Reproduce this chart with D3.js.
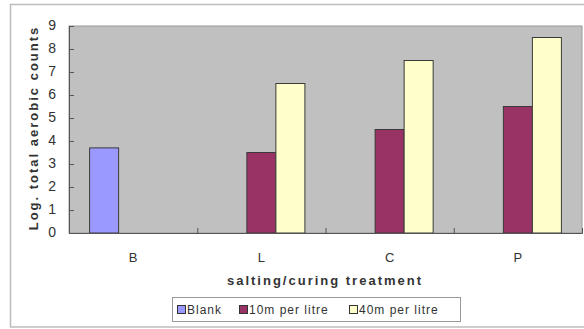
<!DOCTYPE html>
<html>
<head>
<meta charset="utf-8">
<script src="https://cdn.jsdelivr.net/npm/d3@7"></script>
<style>
  html, body { margin: 0; padding: 0; background: #fff; }
  svg { display: block; }
  text { font-family: "Liberation Sans", Arial, sans-serif; fill: #333; }
</style>
</head>
<body>
<svg id="chart" width="584" height="329"></svg>
<script>
// Treatments along the x axis
const categories = ["B", "L", "C", "P"];
// Series: name, fill colour, values per treatment (null = no bar)
const seriesNames = ["Blank", "10m per litre", "40m per litre"];
const seriesColors = ["#9999ff", "#993366", "#ffffcc"];
const blankValues = [3.7, null, null, null];
const tenValues = [null, 3.5, 4.5, 5.5];
const fortyValues = [null, 6.5, 7.5, 8.5];
const yTicks = [0, 1, 2, 3, 4, 5, 6, 7, 8, 9];

const seriesValues = [blankValues, tenValues, fortyValues];

const svg = d3.select("#chart");

// outer chart frame
svg.append("rect")
  .attr("x", 10.5).attr("y", 4.5)
  .attr("width", 600).attr("height", 322.5)
  .attr("fill", "#fff").attr("stroke", "#bdbdbd").attr("stroke-width", 1.5);

const plot = { left: 69, right: 582, top: 26, bottom: 233 };

const x = d3.scaleBand()
  .domain(categories)
  .range([plot.left, plot.right])
  .paddingInner(0).paddingOuter(0);

// three slots per treatment, with a gap on both sides
const inner = d3.scaleBand()
  .domain(d3.range(seriesNames.length))
  .range([0, x.bandwidth()])
  .paddingOuter(0.71).paddingInner(0);

const y = d3.scaleLinear().domain([0, 9]).range([plot.bottom, plot.top]);

// plot background
svg.append("rect")
  .attr("x", plot.left).attr("y", plot.top)
  .attr("width", plot.right - plot.left).attr("height", plot.bottom - plot.top)
  .attr("fill", "#c0c0c0").attr("stroke", "#9a9a9a");

// bars
seriesValues.forEach((vals, si) => {
  svg.append("g")
    .selectAll("rect")
    .data(categories.map((c, i) => ({ c, v: vals[i] })).filter(d => d.v != null))
    .join("rect")
    .attr("x", d => x(d.c) + inner(si))
    .attr("y", d => y(d.v))
    .attr("width", inner.bandwidth())
    .attr("height", d => y(0) - y(d.v))
    .attr("fill", seriesColors[si])
    .attr("stroke", "#3a3a3a")
    .attr("stroke-width", 1);
});

// y axis with inward ticks
const yAxis = svg.append("g")
  .attr("transform", `translate(${plot.left},0)`)
  .call(d3.axisRight(y).tickValues(yTicks).tickSize(5).tickFormat(""));
yAxis.select(".domain").attr("stroke", "#555");
yAxis.selectAll(".tick line").attr("stroke", "#555");

svg.append("g").selectAll("text")
  .data(yTicks)
  .join("text")
  .attr("x", 56)
  .attr("y", d => y(d) - 1)
  .attr("dy", "0.35em")
  .attr("text-anchor", "end")
  .attr("font-size", 14)
  .text(d => d);

// x axis with inward ticks on band edges
const xAxisLine = svg.append("g")
  .attr("transform", `translate(0,${plot.bottom})`)
  .call(d3.axisTop(d3.scaleLinear().domain([0, categories.length]).range([plot.left, plot.right]))
    .tickValues(d3.range(1, categories.length)).tickSize(5).tickFormat(""));
xAxisLine.select(".domain").attr("stroke", "#555");
xAxisLine.selectAll(".tick line").attr("stroke", "#555");

svg.append("g").selectAll("text")
  .data(categories)
  .join("text")
  .attr("x", d => x(d) + x.bandwidth() / 2)
  .attr("y", 262)
  .attr("text-anchor", "middle")
  .attr("font-size", 13)
  .text(d => d);

// axis titles
svg.append("text")
  .attr("x", 325).attr("y", 285)
  .attr("text-anchor", "middle")
  .attr("font-size", 13).attr("font-weight", "bold")
  .attr("letter-spacing", 2)
  .text("salting/curing treatment");

svg.append("text")
  .attr("transform", "translate(38,128) rotate(-90)")
  .attr("text-anchor", "middle")
  .attr("font-size", 13).attr("font-weight", "bold")
  .attr("letter-spacing", 2)
  .text("Log. total aerobic counts");

// legend
const legend = svg.append("g");
legend.append("rect")
  .attr("x", 172.5).attr("y", 297.5).attr("width", 288).attr("height", 24)
  .attr("fill", "#fff").attr("stroke", "#999");
const legendX = [177, 239, 349];
seriesNames.forEach((name, i) => {
  legend.append("rect")
    .attr("x", legendX[i] + 0.5).attr("y", 305.5).attr("width", 8).attr("height", 8)
    .attr("fill", seriesColors[i]).attr("stroke", "#333");
  legend.append("text")
    .attr("x", legendX[i] + 10).attr("y", 314)
    .attr("font-size", 12).attr("letter-spacing", 1)
    .text(name);
});
</script>
</body>
</html>
